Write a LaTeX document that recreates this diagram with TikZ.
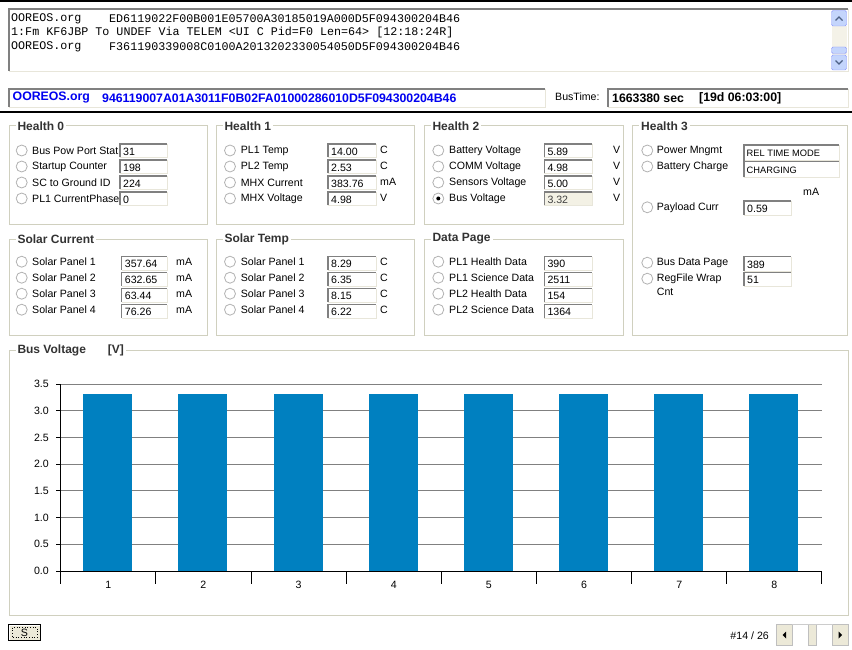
\documentclass[tikz,border=0pt]{standalone}
\usepackage{fontspec}
\setmainfont{Liberation Sans}
\newfontfamily\monof{Liberation Mono}
\definecolor{grp}{RGB}{208,208,191}
\definecolor{bdark}{RGB}{128,128,128}
\definecolor{blight}{RGB}{232,230,218}
\definecolor{barc}{RGB}{0,128,192}
\definecolor{gridc}{RGB}{128,128,128}
\definecolor{btnc}{RGB}{236,233,216}
\definecolor{disf}{RGB}{243,241,229}
\definecolor{sbblue}{RGB}{196,213,252}
\definecolor{sbdark}{RGB}{77,97,133}
\definecolor{uiblue}{RGB}{0,0,240}
\tikzset{
  ui/.style={font=\fontsize{10.6}{12}\selectfont, inner sep=0pt, anchor=west},
  smallval/.style={font=\fontsize{9.3}{11}\selectfont, inner sep=0pt, anchor=west},
  ttl/.style={font=\bfseries\fontsize{12}{14}\selectfont, text=black!80, fill=white, inner xsep=2pt, inner ysep=0pt, anchor=west},
  grpbox/.style={draw=grp, line width=1pt},
  radio/.style={circle, draw=gray!60, fill=white, minimum size=11pt, inner sep=0pt, line width=0.8pt},
  mono/.style={font=\monof\fontsize{11.7}{13}\selectfont, inner sep=0pt, anchor=west},
  bluetxt/.style={font=\bfseries\fontsize{12.3}{14}\selectfont, text=uiblue, inner sep=0pt, anchor=west},
  blacktxt/.style={font=\bfseries\fontsize{12.3}{14}\selectfont, inner sep=0pt, anchor=west},
}
% group box: name, x1, y1, x2, y2, title
\newcommand\grpb[6]{%
  \draw[grpbox] (#2,#3) rectangle (#4,#5);
  \node[ttl] (#1) at (#2+6.3,#3) {#6};}
% sunken field: name, x, ytop, w, h, fill, text
\newcommand\fld[7]{%
  \fill[#6] (#2,#3) rectangle (#2+#4,#3+#5);
  \draw[blight] (#2+#4,#3) -- (#2+#4,#3+#5) -- (#2,#3+#5);
  \draw[bdark,line width=1.4pt] (#2,#3+#5) -- (#2,#3) -- (#2+#4,#3);
  \node[ui] (#1) at (#2+3,#3+#5/2+0.8) {#7};}
% sunken frame only: x1,y1,x2,y2
\newcommand\sunk[4]{%
  \fill[white] (#1,#2) rectangle (#3,#4);
  \draw[blight] (#3,#2) -- (#3,#4) -- (#1,#4);
  \draw[bdark,line width=1.6pt] (#1,#4) -- (#1,#2) -- (#3,#2);}
\begin{document}
\begin{tikzpicture}[x=1pt,y=-1pt]
\useasboundingbox (0,0) rectangle (852,650);
\fill[white] (0,0) rectangle (852,650);
% top rules
\draw[black,line width=1.5pt] (0,1) -- (852,1);
\draw[black,line width=1.5pt] (0,112) -- (852,112);
% log area
\sunk{9}{9}{848}{71}
\node[mono] (l1a) at (11,18.5) {OOREOS.org};
\node[mono] (l1b) at (109,18.5) {ED6119022F00B001E05700A30185019A000D5F094300204B46};
\node[mono] (l2) at (11,32.5) {1:Fm KF6JBP To UNDEF Via TELEM <UI C Pid=F0 Len=64> [12:18:24R]};
\node[mono] (l3a) at (11,46.5) {OOREOS.org};
\node[mono] (l3b) at (109,46.5) {F361190339008C0100A2013202330054050D5F094300204B46};
% vertical scrollbar
\fill[btnc!60] (831.5,26) rectangle (846.5,55);
\draw[sbblue!70!blue, fill=sbblue, rounded corners=1.5pt] (831.5,10.5) rectangle (846.5,26);
\draw[sbdark, line width=1.3pt] (835.5,20.5) -- (839,17) -- (842.5,20.5);
\draw[sbblue!70!blue, fill=sbblue, rounded corners=1.5pt] (831.5,47) rectangle (846.5,53.5);
\draw[sbblue!70!blue, fill=sbblue, rounded corners=1.5pt] (831.5,55) rectangle (846.5,70);
\draw[sbdark, line width=1.3pt] (835.5,60.5) -- (839,64) -- (842.5,60.5);
% info line
\sunk{9}{89}{545}{107}
\node[bluetxt] (org) at (12.5,98) {OOREOS.org};
\node[bluetxt] (hex) at (102,98) {946119007A01A3011F0B02FA01000286010D5F094300204B46};
\node[ui] (bt) at (555,96.5) {BusTime:};
\sunk{608}{89}{848}{107}
\node[blacktxt] (sec) at (612,98) {1663380 sec};
\node[blacktxt] (dhm) at (699,98) {[19d 06:03:00]};
% ---------- Health 0
\grpb{h0}{9}{126}{207}{224}{Health 0}
\foreach \lab/\v [count=\i] in {Bus Pow Port Stat/31, Startup Counter/198, SC to Ground ID/224, PL1 CurrentPhase/0} {
  \pgfmathsetmacro\yc{150.5+16*(\i-1)}
  \node[radio] (h0r\i) at (21.7,\yc) {};
  \node[ui] (h0l\i) at (32,\yc) {\lab};
  \fld{h0v\i}{120}{\yc-6.5}{47}{13.5}{white}{\v}
}
% ---------- Health 1
\grpb{h1}{216}{126}{414}{224}{Health 1}
\foreach \lab/\v/\u [count=\i] in {PL1 Temp/14.00/C, PL2 Temp/2.53/C, MHX Current/383.76/mA, MHX Voltage/4.98/V} {
  \pgfmathsetmacro\yc{150.5+16*(\i-1)}
  \node[radio] (h1r\i) at (230,\yc) {};
  \node[ui] (h1l\i) at (240.7,\yc) {\lab};
  \fld{h1v\i}{328}{\yc-6.5}{47.7}{13.5}{white}{\v}
  \node[ui] (h1u\i) at (380,\yc-1) {\u};
}
% ---------- Health 2
\grpb{h2}{424}{126}{623}{224}{Health 2}
\foreach \lab/\v [count=\i] in {Battery Voltage/5.89, COMM Voltage/4.98, Sensors Voltage/5.00} {
  \pgfmathsetmacro\yc{150.5+16*(\i-1)}
  \node[radio] (h2r\i) at (438.3,\yc) {};
  \node[ui] (h2l\i) at (449,\yc) {\lab};
  \fld{h2v\i}{544.3}{\yc-6.5}{47.4}{13.5}{white}{\v}
  \node[ui] (h2u\i) at (613,\yc-1) {V};
}
\node[radio] (h2r4) at (438.3,198.5) {};
\fill[black] (h2r4.center) circle (2pt);
\node[ui] (h2l4) at (449,198.5) {Bus Voltage};
\fld{h2v4}{544.3}{192}{47.4}{13.5}{disf}{\textcolor{black!75}{3.32}}
\node[ui] (h2u4) at (613,197.5) {V};
% ---------- Health 3
\grpb{h3}{632.7}{126}{847.7}{335}{Health 3}
\node[radio] (h3r1) at (647.3,150.5) {};
\node[ui] (h3l1) at (656.7,150.5) {Power Mngmt};
\sunk{744}{145}{839.3}{160.7}
\node[smallval] (h3v1) at (746.5,153.5) {REL TIME MODE};
\node[radio] (h3r2) at (647.3,166.5) {};
\node[ui] (h3l2) at (656.7,166.5) {Battery Charge};
\sunk{744}{161.5}{839.3}{177.3}
\node[smallval] (h3v2) at (746.5,170) {CHARGING};
\node[ui] (h3ma) at (803,191.5) {mA};
\node[radio] (h3r3) at (647.3,207.3) {};
\node[ui] (h3l3) at (656.7,207.3) {Payload Curr};
\fld{h3v3}{744}{201}{47}{14}{white}{0.59}
\node[radio] (h3r4) at (647.3,262.7) {};
\node[ui] (h3l4) at (656.7,262.7) {Bus Data Page};
\fld{h3v4}{744}{256.7}{47}{14}{white}{389}
\node[radio] (h3r5) at (647.3,278.7) {};
\node[ui] (h3l5) at (656.7,278.7) {RegFile Wrap};
\node[ui] (h3l5b) at (656.7,291.7) {Cnt};
\fld{h3v5}{744}{272.2}{47}{14}{white}{51}
% ---------- Solar Current
\grpb{sc}{9}{239}{207}{335}{Solar Current}
\foreach \lab/\v [count=\i] in {Solar Panel 1/357.64, Solar Panel 2/632.65, Solar Panel 3/63.44, Solar Panel 4/76.26} {
  \pgfmathsetmacro\yc{261.7+16*(\i-1)}
  \node[radio] (scr\i) at (21.7,\yc) {};
  \node[ui] (scl\i) at (32,\yc) {\lab};
  \fld{scv\i}{121.7}{\yc-5.2}{45.3}{13.5}{white}{\v}
  \node[ui] (scu\i) at (176,\yc) {mA};
}
% ---------- Solar Temp
\grpb{st}{216}{239}{414}{335}{Solar Temp}
\foreach \lab/\v [count=\i] in {Solar Panel 1/8.29, Solar Panel 2/6.35, Solar Panel 3/8.15, Solar Panel 4/6.22} {
  \pgfmathsetmacro\yc{261.7+16*(\i-1)}
  \node[radio] (str\i) at (230,\yc) {};
  \node[ui] (stl\i) at (240.7,\yc) {\lab};
  \fld{stv\i}{328}{\yc-5.2}{47.7}{13.5}{white}{\v}
  \node[ui] (stu\i) at (380,\yc) {C};
}
% ---------- Data Page
\grpb{dp}{424}{239}{623}{335}{Data Page}
\foreach \lab/\v [count=\i] in {PL1 Health Data/390, PL1 Science Data/2511, PL2 Health Data/154, PL2 Science Data/1364} {
  \pgfmathsetmacro\yc{261.7+16*(\i-1)}
  \node[radio] (dpr\i) at (438.3,\yc) {};
  \node[ui] (dpl\i) at (449,\yc) {\lab};
  \fld{dpv\i}{544.3}{\yc-5.2}{47.4}{13.5}{white}{\v}
}
% ---------- Chart
\grpb{ch}{9}{350}{848}{615}{Bus Voltage\hspace{22pt}[V]}
\foreach \k in {1,...,7} {
  \draw[gridc, line width=1pt] (60.7,{571-26.714*\k}) -- (822,{571-26.714*\k});
}
\foreach \i in {1,...,8} {
  \fill[barc] ({60.7+95.16*(\i-1)+22.5},393.6) rectangle ({60.7+95.16*(\i-1)+71.5},571);
  \node[ui, anchor=center] (xl\i) at ({60.7+95.16*(\i-0.5)},585) {\i};
}
\foreach \v [count=\k from 0] in {0.0,0.5,1.0,1.5,2.0,2.5,3.0,3.5} {
  \node[ui, anchor=east] (yl\k) at (49,{571-26.714*\k}) {\v};
  \draw[black, line width=1pt] (56,{571-26.714*\k}) -- (60.7,{571-26.714*\k});
}
\draw[black, line width=1pt] (60.7,384) -- (60.7,571) -- (822,571);
\foreach \i in {0,...,8} {
  \draw[black, line width=1pt] ({60.7+95.16*\i},571) -- ({60.7+95.16*\i},583.5);
}
% ---------- S button
\draw[black, fill=btnc, line width=1pt] (8.5,624.5) rectangle (40.5,640.5);
\draw[white, line width=1pt] (9.5,639.5) -- (9.5,625.5) -- (39.5,625.5);
\draw[black, dotted, line width=0.7pt] (12,627.5) rectangle (37,637.5);
\node[ui, anchor=center] (sbtn) at (24.5,632.5) {S};
% ---------- page counter & scrollbar
\node[ui, anchor=east] (pg) at (769,636) {\#14 / 26};
\fill[white] (776,624) rectangle (848.5,646);
\draw[gray!50, fill=btnc, line width=0.8pt] (776.5,624.5) rectangle (792,645.5);
\fill[black] (782.5,635) -- (786,631.5) -- (786,638.5) -- cycle;
\draw[gray!50, fill=btnc, line width=0.8pt] (808.5,624.5) rectangle (816.5,645.5);
\draw[gray!50, fill=btnc, line width=0.8pt] (832.5,624.5) rectangle (848,645.5);
\fill[black] (842,635) -- (838.5,631.5) -- (838.5,638.5) -- cycle;
\draw[gray!40, line width=0.8pt] (792,624.5) -- (832.5,624.5);
\end{tikzpicture}
\end{document}
